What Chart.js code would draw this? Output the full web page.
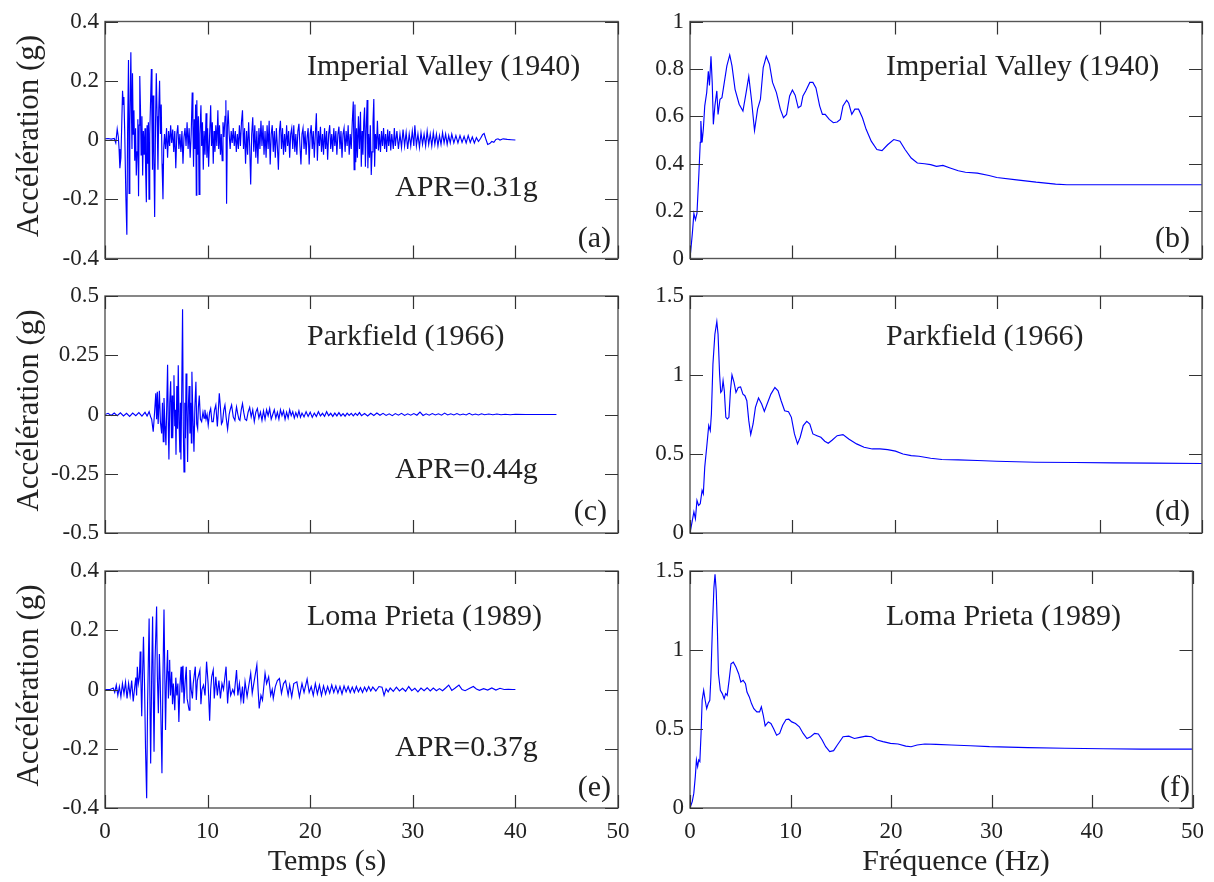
<!DOCTYPE html>
<html><head><meta charset="utf-8">
<script src="https://cdn.jsdelivr.net/npm/chart.js@4.4.1/dist/chart.umd.min.js"></script>
<style>
html,body{margin:0;padding:0;background:#fff;}
#wrap{position:relative;width:1214px;height:882px;overflow:hidden;}
#wrap canvas{position:absolute;left:0;top:0;}
</style></head><body><div id="wrap">
<canvas id="c0" width="1214" height="882"></canvas>
<canvas id="c1" width="1214" height="882"></canvas>
<canvas id="c2" width="1214" height="882"></canvas>
<canvas id="c3" width="1214" height="882"></canvas>
<canvas id="c4" width="1214" height="882"></canvas>
<canvas id="c5" width="1214" height="882"></canvas>
</div>
<script>
// ---------- tick values / labels ----------
const xTickVals = [0, 10, 20, 30, 40, 50];
const xTickLabels = ['0', '10', '20', '30', '40', '50'];
const yTicksA = [-0.4, -0.2, 0, 0.2, 0.4];
const yLabelsA = ['-0.4', '-0.2', '0', '0.2', '0.4'];
const yTicksC = [-0.5, -0.25, 0, 0.25, 0.5];
const yLabelsC = ['-0.5', '-0.25', '0', '0.25', '0.5'];
const yTicksB = [0, 0.2, 0.4, 0.6, 0.8, 1];
const yLabelsB = ['0', '0.2', '0.4', '0.6', '0.8', '1'];
const yTicksD = [0, 0.5, 1, 1.5];
const yLabelsD = ['0', '0.5', '1', '1.5'];

const quakeNames = ['Imperial Valley (1940)', 'Parkfield (1966)', 'Loma Prieta (1989)'];
const aprTexts = ['APR=0.31g', 'APR=0.44g', 'APR=0.37g'];
const panelTags = ['(a)', '(b)', '(c)', '(d)', '(e)', '(f)'];

// ---------- (a) Imperial Valley accelerogram ----------
const timeA = [0,0.3,0.6,0.9,1.05,1.19,1.3,1.37,1.45,1.55,1.63,1.71,1.78,1.84,1.92,2.03,2.13,2.2,2.29,2.35,2.42,2.52,2.58,2.63,2.68,2.75,2.82,2.9,2.98,3.05,3.13,3.2,3.27,3.33,3.39,3.46,3.52,3.6,3.67,3.74,3.82,3.9,3.96,4.03,4.1,4.17,4.23,4.29,4.36,4.44,4.52,4.58,4.63,4.68,4.76,4.84,4.92,5.0,5.08,5.16,5.24,5.32,5.4,5.48,5.56,5.65,5.72,5.8,5.9,6.0,6.1,6.2,6.3,6.4,6.5,6.6,6.7,6.8,6.9,7.0,7.1,7.2,7.3,7.4,7.5,7.6,7.7,7.8,7.9,8.0,8.1,8.2,8.3,8.4,8.5,8.57,8.63,8.7,8.77,8.83,8.9,8.95,9.02,9.1,9.17,9.25,9.35,9.42,9.5,9.58,9.66,9.75,9.85,9.93,10.0,10.1,10.2,10.3,10.38,10.46,10.55,10.63,10.72,10.8,10.9,11.0,11.08,11.16,11.25,11.33,11.42,11.5,11.6,11.7,11.78,11.85,11.93,12.0,12.1,12.2,12.3,12.4,12.5,12.6,12.7,12.8,12.9,13.0,13.1,13.2,13.3,13.4,13.5,13.6,13.7,13.8,13.9,14.0,14.1,14.2,14.3,14.4,14.5,14.6,14.7,14.8,14.9,15.0,15.1,15.2,15.3,15.4,15.5,15.6,15.7,15.8,15.9,16.0,16.1,16.2,16.3,16.4,16.5,16.6,16.7,16.8,16.9,17.0,17.1,17.2,17.3,17.4,17.5,17.6,17.7,17.8,17.9,18.0,18.1,18.2,18.3,18.4,18.5,18.6,18.7,18.8,18.9,19.0,19.1,19.2,19.3,19.4,19.5,19.6,19.7,19.8,19.9,20.0,20.1,20.2,20.3,20.4,20.5,20.6,20.7,20.8,20.9,21.0,21.1,21.2,21.3,21.4,21.5,21.6,21.7,21.8,21.9,22.0,22.1,22.2,22.3,22.4,22.5,22.6,22.7,22.8,22.9,23.0,23.1,23.2,23.3,23.4,23.5,23.6,23.7,23.8,23.9,24.0,24.1,24.2,24.28,24.36,24.44,24.52,24.6,24.7,24.8,24.9,24.98,25.06,25.14,25.22,25.3,25.38,25.46,25.55,25.62,25.7,25.78,25.86,25.95,26.03,26.12,26.2,26.28,26.36,26.45,26.55,26.65,26.75,26.85,26.95,27.05,27.15,27.25,27.35,27.45,27.55,27.65,27.75,27.85,27.95,28.1,28.2,28.3,28.45,28.6,28.75,28.9,29.05,29.2,29.35,29.5,29.65,29.8,29.95,30.1,30.2,30.35,30.5,30.65,30.8,30.95,31.1,31.25,31.4,31.55,31.7,31.85,32.0,32.15,32.3,32.45,32.6,32.75,32.9,33.05,33.2,33.35,33.5,33.65,33.8,34.0,34.2,34.4,34.6,34.8,35.0,35.2,35.4,35.6,35.8,36.0,36.2,36.4,36.6,36.8,36.95,37.1,37.3,37.5,37.7,37.9,38.1,38.3,38.5,38.8,39.2,39.6,40];
const accA = [0.004,0.005,0.003,0.005,-0.01,0.037,0.01,-0.03,-0.095,-0.06,0.05,0.166,0.12,0.145,0.03,-0.186,-0.32,0.02,0.27,-0.18,0.05,0.296,0.09,-0.03,0.225,0.02,0.1,-0.07,0.04,-0.12,-0.04,0.07,-0.19,0.05,0.216,0.1,-0.05,0.08,-0.12,0.03,-0.05,0.04,-0.1,-0.21,0.05,-0.08,0.06,-0.2,0.02,0.13,0.24,0.05,-0.1,0.15,-0.05,-0.26,0.04,0.225,0.08,-0.1,0.1,0.2,0.02,0.12,-0.08,-0.2,-0.03,0.02,-0.03,0.04,-0.06,0.03,-0.02,0.05,-0.01,0.035,-0.04,0.03,-0.095,0.02,0.05,-0.03,0.02,-0.04,0.03,-0.08,0.01,0.04,-0.02,0.06,-0.03,0.04,-0.06,0.02,0.16,0.05,-0.09,0.07,-0.03,0.12,-0.186,0.134,-0.05,0.08,-0.184,0.02,0.117,-0.02,0.06,-0.1,0.03,-0.05,0.09,-0.06,0.04,-0.09,0.02,0.117,-0.02,0.06,-0.08,0.03,-0.04,0.05,-0.02,0.1,-0.03,0.05,-0.05,0.02,-0.07,0.06,0.01,0.08,0.134,-0.215,0.05,0.1,0.02,-0.03,0.03,-0.01,0.04,-0.02,0.03,-0.04,0.02,-0.03,0.05,-0.02,0.06,0.1,-0.03,0.04,-0.08,0.03,-0.05,0.06,-0.02,-0.15,0.02,0.077,-0.04,0.05,-0.06,0.03,-0.08,0.04,-0.03,0.065,-0.02,0.05,-0.05,0.03,-0.06,0.05,-0.03,0.065,-0.083,0.02,0.05,-0.04,0.03,-0.06,0.04,-0.02,-0.1,0.03,0.065,-0.03,0.04,-0.05,0.02,-0.04,0.05,-0.02,0.03,-0.06,0.02,0.04,-0.03,0.05,-0.04,0.02,-0.05,0.03,0.055,-0.02,-0.083,0.02,0.04,-0.03,0.03,-0.05,0.01,0.04,-0.083,0.02,0.05,-0.03,0.03,-0.06,0.02,0.09,-0.07,0.03,-0.02,0.045,-0.04,0.02,-0.05,0.04,-0.03,0.03,-0.067,0.02,0.05,-0.03,0.02,-0.04,0.04,-0.02,0.03,-0.05,0.02,0.045,-0.03,0.03,-0.06,0.02,0.04,-0.04,0.03,-0.02,0.05,-0.05,0.02,-0.03,0.06,0.13,-0.1,0.12,-0.075,0.04,-0.06,0.08,-0.03,0.095,-0.09,0.03,-0.05,0.06,0.11,-0.09,0.04,0.135,-0.095,0.02,-0.06,0.05,-0.118,-0.04,0.06,0.138,-0.09,0.02,-0.03,0.065,-0.035,0.02,-0.04,0.03,-0.02,0.04,-0.03,0.02,-0.04,0.035,-0.02,0.03,-0.035,0.02,-0.03,0.04,-0.02,0.03,-0.03,0.02,-0.025,0.035,-0.02,0.025,-0.03,0.02,-0.02,0.03,-0.02,0.05,-0.02,0.02,-0.025,0.025,-0.015,0.02,-0.02,0.03,-0.015,0.02,-0.02,0.025,-0.015,0.02,-0.02,0.015,-0.015,0.025,-0.01,0.02,-0.015,0.015,-0.01,0.02,-0.01,0.015,-0.01,0.015,-0.008,0.012,-0.01,0.015,-0.008,0.01,-0.01,0.008,-0.005,0.005,0.018,0.022,0.005,-0.015,-0.012,-0.005,-0.008,0.002,0.004,0.0,0.004,0.002,0.001,0];

// ---------- (c) Parkfield accelerogram ----------
const timeC = [0,0.3,0.6,0.9,1.2,1.5,1.8,2.1,2.4,2.7,3.0,3.3,3.6,3.9,4.1,4.3,4.45,4.55,4.7,4.85,4.95,5.03,5.1,5.18,5.3,5.4,5.52,5.6,5.68,5.75,5.85,5.94,6.02,6.1,6.17,6.23,6.31,6.4,6.48,6.55,6.6,6.67,6.72,6.8,6.86,6.92,7.0,7.07,7.14,7.22,7.3,7.35,7.4,7.48,7.56,7.63,7.7,7.78,7.84,7.9,7.98,8.05,8.12,8.2,8.28,8.35,8.42,8.47,8.55,8.6,8.67,8.76,8.86,8.94,9.03,9.1,9.19,9.3,9.42,9.55,9.65,9.74,9.85,9.95,10.06,10.2,10.3,10.42,10.55,10.68,10.8,10.95,11.05,11.14,11.25,11.35,11.46,11.58,11.69,11.8,11.95,12.1,12.2,12.34,12.5,12.66,12.75,12.82,12.95,13.05,13.15,13.28,13.4,13.52,13.65,13.8,13.95,14.1,14.25,14.4,14.55,14.7,14.85,15.0,15.15,15.3,15.45,15.6,15.75,15.9,16.05,16.2,16.35,16.5,16.65,16.8,16.95,17.1,17.25,17.4,17.55,17.7,17.85,18.0,18.15,18.3,18.45,18.6,18.75,18.9,19.05,19.2,19.4,19.6,19.8,20.0,20.2,20.4,20.6,20.8,21.0,21.2,21.4,21.6,21.8,22.0,22.2,22.4,22.6,22.8,23.0,23.2,23.4,23.6,23.8,24.0,24.2,24.4,24.6,24.8,25.0,25.3,25.6,25.9,26.2,26.5,26.8,27.1,27.4,27.7,28.0,28.3,28.6,28.9,29.2,29.5,29.8,30.1,30.4,30.7,31.0,31.3,31.6,31.9,32.2,32.5,32.8,33.1,33.4,33.7,34.0,34.3,34.6,34.9,35.2,35.5,35.8,36.1,36.4,36.7,37.0,37.4,37.8,38.2,38.6,39.0,39.5,40.0,41,42,43,44];
const accC = [0,0.005,-0.004,0.006,-0.005,0.007,-0.006,0.005,-0.008,0.006,-0.005,0.008,-0.007,0.009,-0.006,0.012,-0.01,-0.02,-0.073,0.02,0.09,-0.02,0.096,-0.04,0.1,-0.03,-0.08,0.05,-0.115,0.07,-0.05,-0.13,0.04,0.21,-0.05,-0.19,0.05,0.14,-0.1,0.08,-0.1,0.05,0.166,-0.05,0.02,-0.17,0.12,-0.06,0.208,-0.04,-0.16,0.05,-0.19,0.1,0.444,-0.05,-0.242,0.05,-0.1,0.173,0.02,-0.2,0.03,0.12,-0.08,0.05,-0.12,0.18,0.02,-0.05,-0.157,0.03,0.138,-0.04,-0.06,0.03,0.08,-0.02,-0.03,0.01,-0.015,0.02,-0.02,0.0,-0.045,0.01,0.025,-0.03,-0.03,0.02,0.04,-0.05,0.02,0.089,0.03,-0.04,-0.03,0.02,0.04,-0.01,-0.062,0.0,0.02,0.04,-0.01,-0.025,0.01,0.032,0.0,-0.02,-0.025,0.02,0.046,0.01,-0.02,-0.025,0.01,0.03,-0.01,0.02,-0.03,0.01,0.025,-0.015,0.01,-0.025,0.015,-0.02,0.02,-0.005,0.025,-0.02,0.0,0.02,-0.015,0.01,-0.02,0.02,-0.005,0.015,-0.02,0.01,-0.015,0.02,-0.005,0.012,-0.015,0.008,-0.01,0.015,-0.012,0.006,-0.01,0.012,-0.008,0.01,-0.012,0.006,-0.008,0.012,-0.006,0.005,-0.008,0.012,-0.005,0.005,-0.008,0.006,-0.006,0.008,-0.006,0.004,-0.007,0.006,-0.004,0.005,-0.006,0.005,-0.004,0.008,-0.005,0.004,-0.006,0.005,-0.004,0.006,-0.003,0.005,-0.004,0.003,-0.005,0.004,-0.003,0.005,-0.004,0.003,-0.003,0.004,-0.003,0.01,-0.004,0.003,-0.003,0.004,-0.002,0.003,-0.003,0.006,-0.002,0.003,-0.002,0.004,-0.002,0.002,-0.002,0.005,-0.002,0.002,-0.002,0.003,-0.001,0.002,-0.001,0.002,-0.001,0.001,-0.001,0.001,0,0,0,0];

// ---------- (e) Loma Prieta accelerogram ----------
const timeE = [0,0.5,0.8,0.95,1.1,1.25,1.4,1.55,1.7,1.85,2.0,2.15,2.3,2.45,2.6,2.75,2.9,3.0,3.08,3.15,3.25,3.35,3.43,3.5,3.58,3.66,3.75,3.85,3.95,4.06,4.15,4.3,4.4,4.45,4.55,4.64,4.72,4.78,4.88,5.03,5.1,5.2,5.3,5.38,5.48,5.55,5.65,5.75,5.83,5.9,5.98,6.1,6.18,6.25,6.3,6.38,6.5,6.58,6.66,6.8,6.9,7.0,7.1,7.2,7.3,7.42,7.5,7.6,7.7,7.8,7.92,8.0,8.2,8.28,8.4,8.52,8.6,8.8,8.9,9.0,9.25,9.35,9.45,9.6,9.75,9.9,10.05,10.2,10.3,10.4,10.55,10.65,10.8,10.95,11.1,11.25,11.4,11.55,11.8,11.95,12.1,12.25,12.45,12.6,12.82,12.95,13.1,13.25,13.4,13.5,13.65,13.85,14.0,14.2,14.35,14.5,14.8,14.92,15.03,15.2,15.35,15.45,15.6,15.75,15.95,16.15,16.3,16.4,16.6,16.8,17.0,17.2,17.4,17.6,17.85,18.0,18.2,18.4,18.7,18.95,19.2,19.4,19.7,19.9,20.1,20.3,20.5,20.7,20.9,21.1,21.3,21.5,21.7,21.9,22.1,22.3,22.5,22.7,22.9,23.1,23.3,23.5,23.7,23.9,24.1,24.3,24.5,24.7,24.9,25.1,25.3,25.5,25.7,25.9,26.1,26.4,26.7,27.0,27.2,27.4,27.6,27.8,28.1,28.4,28.7,29.0,29.3,29.6,29.9,30.2,30.5,30.8,31.1,31.4,31.7,32.0,32.3,32.6,32.9,33.2,33.5,33.8,34.1,34.5,34.8,35.1,35.5,35.9,36.2,36.5,36.9,37.3,37.7,38.1,38.5,38.9,39.3,39.7,40.0];
const accE = [0,0.0,0.005,-0.01,0.015,-0.02,0.01,-0.025,0.02,-0.015,0.025,-0.03,0.02,-0.02,0.03,-0.04,0.01,0.04,-0.02,0.077,0.02,0.04,0.128,0.03,-0.09,0.05,0.178,0.02,-0.2,-0.367,-0.05,0.24,-0.1,-0.25,0.05,0.246,-0.05,-0.21,0.1,0.28,0.05,-0.08,0.12,0.03,-0.15,-0.283,0.05,0.27,0.05,-0.137,0.02,0.133,-0.03,0.06,0.1,-0.02,0.06,-0.05,0.02,-0.07,0.04,-0.02,0.02,-0.11,0.01,0.077,-0.01,0.08,-0.047,0.02,0.077,-0.03,-0.07,0.066,0.0,-0.03,0.02,0.077,-0.035,0.03,0.066,-0.05,0.0,0.015,-0.02,0.094,0.02,-0.105,0.0,0.043,0.066,-0.03,0.043,-0.02,0.03,-0.03,0.02,0.0,0.077,-0.047,0.03,-0.02,0.0,-0.015,0.066,-0.02,0.02,-0.036,0.01,-0.047,0.026,-0.024,0.01,0.055,-0.013,0.02,0.083,0.0,-0.064,-0.02,-0.036,0.0,0.055,0.02,0.043,-0.02,0.0,-0.03,0.01,0.03,0.037,-0.013,0.02,0.03,-0.019,0.015,-0.025,0.02,0.026,-0.025,0.02,-0.01,0.035,-0.01,0.01,-0.02,0.02,-0.015,0.015,-0.02,0.012,-0.015,0.01,-0.012,0.015,-0.01,0.012,-0.012,0.01,-0.015,0.012,-0.008,0.01,-0.01,0.008,-0.01,0.01,-0.008,0.006,-0.01,0.008,-0.006,0.01,-0.005,0.008,-0.005,0.01,0.008,-0.02,0.002,-0.008,0.005,-0.006,0.008,-0.005,0.004,-0.006,0.01,-0.004,0.004,-0.008,0.005,-0.004,0.006,-0.005,0.005,-0.004,0.003,-0.004,0.005,0.015,-0.003,0.004,0.015,0.0,-0.004,0.003,0.01,0.002,-0.003,0.003,-0.002,0.005,-0.002,0.004,0.0,0.001,0.0,0.0];

// ---------- (b) Imperial Valley spectrum ----------
const freqB = [0,0.23,0.38,0.53,0.68,0.87,1.0,1.06,1.18,1.3,1.44,1.63,1.79,1.9,2.05,2.17,2.28,2.43,2.62,2.74,2.93,3.12,3.35,3.6,3.88,4.1,4.4,4.8,5.17,5.48,5.74,6.0,6.3,6.6,6.88,7.15,7.45,7.76,8.06,8.44,8.82,9.13,9.43,9.73,10.0,10.27,10.57,10.84,11.03,11.3,11.7,12.0,12.3,12.66,12.93,13.2,13.6,14.0,14.37,14.68,14.94,15.3,15.5,15.8,16.1,16.46,16.84,17.2,17.7,18.25,18.75,19.3,19.9,20.5,21.0,21.6,22.2,22.9,23.5,24.07,24.7,25.4,26.2,26.9,28.06,29.2,29.96,31.9,33.8,35.7,36.8,41.4,50];
const specB = [0,0.106,0.19,0.163,0.19,0.36,0.49,0.58,0.49,0.545,0.644,0.70,0.79,0.73,0.853,0.742,0.566,0.644,0.707,0.608,0.672,0.679,0.743,0.813,0.859,0.813,0.714,0.651,0.622,0.70,0.768,0.672,0.54,0.63,0.672,0.806,0.853,0.82,0.743,0.70,0.63,0.594,0.608,0.686,0.711,0.689,0.636,0.644,0.686,0.707,0.743,0.743,0.72,0.644,0.608,0.608,0.587,0.573,0.576,0.587,0.644,0.668,0.655,0.608,0.63,0.63,0.594,0.545,0.495,0.46,0.455,0.48,0.502,0.495,0.46,0.424,0.403,0.40,0.396,0.389,0.393,0.382,0.37,0.364,0.36,0.35,0.342,0.332,0.322,0.314,0.311,0.311,0.311];

// ---------- (d) Parkfield spectrum ----------
const freqD = [0,0.23,0.38,0.53,0.68,0.84,1.0,1.18,1.3,1.44,1.63,1.83,1.98,2.09,2.24,2.43,2.62,2.74,2.89,3.0,3.12,3.23,3.35,3.5,3.65,3.8,3.95,4.1,4.3,4.49,4.71,4.94,5.17,5.36,5.55,5.74,5.93,6.16,6.39,6.69,7.0,7.26,7.53,7.9,8.29,8.6,8.9,9.24,9.62,9.9,10.2,10.5,10.76,11.06,11.4,11.7,12.0,12.4,12.78,13.16,13.5,13.9,14.37,14.94,15.5,16.27,17.0,17.8,18.55,19.3,20.07,20.8,21.6,22.36,23.5,24.6,26.2,28.06,29.96,33.76,37.57,41.37,45.17,50];
const specD = [0,0.08,0.133,0.09,0.206,0.175,0.185,0.27,0.248,0.417,0.543,0.68,0.648,0.753,1.069,1.258,1.338,1.258,1.006,0.89,0.90,0.964,0.90,0.732,0.722,0.732,0.90,1.0,0.953,0.89,0.921,0.925,0.879,0.869,0.837,0.711,0.623,0.69,0.795,0.854,0.816,0.77,0.816,0.879,0.921,0.90,0.837,0.774,0.768,0.732,0.627,0.564,0.606,0.68,0.707,0.69,0.627,0.616,0.606,0.581,0.568,0.589,0.616,0.623,0.595,0.564,0.543,0.532,0.532,0.528,0.518,0.50,0.49,0.486,0.473,0.465,0.463,0.459,0.454,0.448,0.446,0.444,0.442,0.44];

// ---------- (f) Loma Prieta spectrum ----------
const freqF = [0,0.23,0.38,0.53,0.64,0.76,0.87,0.98,1.1,1.21,1.36,1.51,1.66,1.81,1.97,2.08,2.23,2.38,2.49,2.61,2.72,2.83,3.02,3.21,3.4,3.55,3.7,3.89,4.08,4.31,4.57,4.84,5.06,5.29,5.52,5.67,5.9,6.12,6.35,6.65,6.92,7.1,7.29,7.48,7.79,8.05,8.31,8.62,8.92,9.22,9.56,9.83,10.13,10.5,10.88,11.26,11.64,12.0,12.4,12.77,13.15,13.5,13.9,14.29,14.66,15.23,15.8,16.36,16.9,17.5,18.06,18.6,19.2,19.95,20.7,21.47,22.0,22.6,23.36,24.5,26.0,27.9,29.8,33.6,37.3,41.1,44.9,50];
const specF = [0,0.042,0.094,0.2,0.304,0.262,0.304,0.294,0.472,0.682,0.745,0.682,0.629,0.661,0.682,0.829,1.143,1.395,1.479,1.374,1.143,0.85,0.745,0.724,0.692,0.724,0.713,0.808,0.913,0.923,0.892,0.85,0.797,0.808,0.787,0.734,0.703,0.661,0.629,0.608,0.608,0.64,0.587,0.52,0.545,0.535,0.503,0.461,0.472,0.524,0.56,0.562,0.545,0.535,0.514,0.472,0.44,0.451,0.472,0.468,0.43,0.388,0.357,0.363,0.399,0.451,0.455,0.44,0.447,0.455,0.451,0.43,0.42,0.409,0.405,0.392,0.388,0.399,0.405,0.403,0.399,0.394,0.388,0.382,0.378,0.375,0.373,0.373];

// ---------- layout ----------
const W = 1214, H = 882;
const SERIF = "'Liberation Serif','Times New Roman',serif";
const TXT = '#222';
const LEFT = [105, 618], RIGHT = [690, 1202];
const ROWS = [[21.5, 258.5], [296, 533], [571, 808]];

const panels = [
  {id:'c0', xs:timeA, ys:accA, cols:LEFT, row:0, yMin:-0.4, yMax:0.4, yt:yTicksA, yl:yLabelsA, name:quakeNames[0], apr:aprTexts[0], tag:panelTags[0], nameDy:46, aprDy:167, tagDy:-19, tagR:611},
  {id:'c1', xs:freqB, ys:specB, cols:RIGHT, row:0, yMin:0, yMax:1, yt:yTicksB, yl:yLabelsB, name:quakeNames[0], apr:null, tag:panelTags[1], nameDy:46, tagDy:-19, tagR:1190},
  {id:'c2', xs:timeC, ys:accC, cols:LEFT, row:1, yMin:-0.5, yMax:0.5, yt:yTicksC, yl:yLabelsC, name:quakeNames[1], apr:aprTexts[1], tag:panelTags[2], nameDy:41, aprDy:174, tagDy:-21, tagR:607},
  {id:'c3', xs:freqD, ys:specD, cols:RIGHT, row:1, yMin:0, yMax:1.5, yt:yTicksD, yl:yLabelsD, name:quakeNames[1], apr:null, tag:panelTags[3], nameDy:41, tagDy:-21, tagR:1190},
  {id:'c4', xs:timeE, ys:accE, cols:LEFT, row:2, yMin:-0.4, yMax:0.4, yt:yTicksA, yl:yLabelsA, name:quakeNames[2], apr:aprTexts[2], tag:panelTags[4], nameDy:46, aprDy:177, tagDy:-20, tagR:611},
  {id:'c5', xs:freqF, ys:specF, cols:RIGHT, row:2, yMin:0, yMax:1.5, yt:yTicksD, yl:yLabelsD, name:quakeNames[2], apr:null, tag:panelTags[5], nameDy:46, tagDy:-20, tagR:1190}
];

const framePlugin = {
  id: 'frame',
  afterDraw(chart, args, opts) {
    const p = opts.panel;
    const ctx = chart.ctx, a = chart.chartArea;
    const xs = chart.scales.x, ys = chart.scales.y;
    ctx.save();
    ctx.strokeStyle = '#555';
    ctx.lineWidth = 1.4;
    ctx.strokeRect(a.left, a.top, a.right - a.left, a.bottom - a.top);
    ctx.lineWidth = 1.2;
    ctx.strokeStyle = '#333';
    const TL = 13;
    ctx.beginPath();
    xTickVals.forEach(v => {
      const px = Math.round(xs.getPixelForValue(v)) + 0.5;
      ctx.moveTo(px, a.bottom); ctx.lineTo(px, a.bottom - TL);
      ctx.moveTo(px, a.top); ctx.lineTo(px, a.top + TL);
    });
    p.yt.forEach(v => {
      const py = Math.round(ys.getPixelForValue(v)) + 0.5;
      ctx.moveTo(a.left, py); ctx.lineTo(a.left + TL, py);
      ctx.moveTo(a.right, py); ctx.lineTo(a.right - TL, py);
    });
    ctx.stroke();
    // texts
    ctx.fillStyle = TXT;
    ctx.font = '30px ' + SERIF;
    ctx.textBaseline = 'middle';
    ctx.textAlign = 'left';
    const nameX = p.cols === LEFT ? 307 : 886;
    ctx.fillText(p.name, nameX, a.top + p.nameDy);
    if (p.apr) ctx.fillText(p.apr, 395, a.top + p.aprDy);
    ctx.textAlign = 'right';
    ctx.fillText(p.tag, p.tagR, a.bottom + p.tagDy);
    if (p.cols === LEFT) {
      ctx.save();
      ctx.translate(30, (a.top + a.bottom) / 2 - 4);
      ctx.rotate(-Math.PI / 2);
      ctx.textAlign = 'center';
      ctx.font = '31px ' + SERIF;
      ctx.fillText('Accélération (g)', 0, 0);
      ctx.restore();
    }
    if (p.row === 2) {
      ctx.textAlign = 'center';
      ctx.font = '30px ' + SERIF;
      if (p.cols === LEFT) ctx.fillText('Temps (s)', 327, 862);
      else ctx.fillText('Fréquence (Hz)', 956, 862);
    }
    ctx.restore();
  }
};

panels.forEach(p => {
  const top = ROWS[p.row][0], bottom = ROWS[p.row][1];
  const left = p.cols[0], right = p.cols[1];
  const pts = p.xs.map((t, i) => ({x: t, y: p.ys[i]}));
  new Chart(document.getElementById(p.id).getContext('2d'), {
    type: 'line',
    data: {datasets: [{data: pts, borderColor: '#0000ff', borderWidth: 1.15, pointRadius: 0, tension: 0, fill: false}]},
    options: {
      responsive: false, animation: false, events: [],
      layout: {padding: {left: 0, top: top, right: W - right, bottom: 0}},
      plugins: {legend: {display: false}, tooltip: {enabled: false}, frame: {panel: p}},
      scales: {
        x: {
          type: 'linear', min: 0, max: 50,
          afterBuildTicks: s => { s.ticks = xTickVals.map(v => ({value: v})); },
          afterFit: s => { s.height = H - bottom; },
          grid: {display: false, drawTicks: false}, border: {display: false},
          ticks: {display: p.row === 2, autoSkip: false, maxRotation: 0, padding: 10, color: TXT,
                  font: {family: SERIF, size: 23},
                  callback: v => xTickLabels[xTickVals.indexOf(v)]}
        },
        y: {
          type: 'linear', min: p.yMin, max: p.yMax,
          afterBuildTicks: s => { s.ticks = p.yt.map(v => ({value: v})); },
          afterFit: s => { s.width = left; },
          grid: {display: false, drawTicks: false}, border: {display: false},
          ticks: {autoSkip: false, padding: 6, color: TXT, font: {family: SERIF, size: 23},
                  callback: v => p.yl[p.yt.indexOf(v)]}
        }
      }
    },
    plugins: [framePlugin]
  });
});
</script></body></html>
